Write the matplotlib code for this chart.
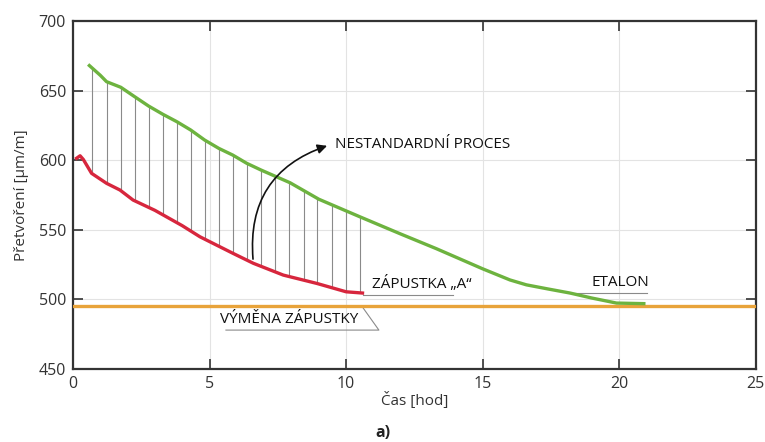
import numpy as np
import matplotlib.pyplot as plt
from matplotlib.patches import FancyArrowPatch

plt.rcParams['font.family'] = ['Open Sans', 'DejaVu Sans']

# etalon (green)
etalon_x = [0.6, 1.0, 1.23, 1.75, 2.26, 2.77, 3.29, 3.8, 4.31, 4.82, 5.34, 5.85, 6.36,
            6.88, 7.95, 9.0, 10.5, 12.0, 13.3, 15.0, 16.0, 16.6, 17.4, 18.2, 19.0, 19.9, 20.9]
etalon_y = [668, 661, 656.4, 652.4, 645.6, 638.9, 633, 627.7, 621.7, 614.5, 608.5, 603.7, 597.8,
            593, 583.8, 572, 559.4, 547, 536.5, 522, 514, 510.5, 507.5, 504.6, 501, 497.4, 497]
# zapustka A (red)
zap_x = [0.13, 0.26, 0.38, 0.68, 1.23, 1.72, 2.2, 3.0, 4.0, 4.65, 5.87, 6.6, 7.7, 8.93, 10.0, 10.6]
zap_y = [601.4, 603.2, 600.5, 590.6, 583.4, 578.6, 571.4, 564, 553, 545, 533, 526, 517.5, 511.5, 505.5, 504.6]
limit_y = 495.5
hatch_x = [0.71, 1.23, 1.74, 2.26, 2.77, 3.29, 3.80, 4.32, 4.83, 5.35, 5.86, 6.38,
           6.89, 7.41, 7.92, 8.44, 8.95, 9.47, 9.98, 10.49]

fig = plt.figure(figsize=(7.65, 4.42), dpi=100)
ax = fig.add_axes([0.0954, 0.165, 0.8926, 0.7875])

hy_top = np.interp(hatch_x, etalon_x, etalon_y)
hy_bot = np.interp(hatch_x, zap_x, zap_y)
ax.vlines(hatch_x, hy_bot, hy_top, colors='#8a8a8a', lw=0.8, zorder=2)

ax.axhline(limit_y, color='#E8A33A', lw=2.4, zorder=3)
ax.plot(etalon_x, etalon_y, color='#6DB33F', lw=2.4, zorder=4)
ax.plot(zap_x, zap_y, color='#D7263D', lw=2.4, zorder=4)

ax.set_xlim(0, 25)
ax.set_ylim(450, 700)
ax.set_xticks(range(0, 26, 5))
ax.set_yticks(range(450, 701, 50))
ax.grid(True, color='#e3e3e3', lw=0.8)
ax.set_axisbelow(True)
ax.tick_params(direction='in', length=7, width=1.2, top=True, right=True,
               labelsize=11.5, colors='#333333', pad=5)
for s in ax.spines.values():
    s.set_linewidth(1.6)
    s.set_color('#333333')

ax.set_xlabel('Čas [hod]', fontsize=11, color='#333333', labelpad=0)
ax.set_ylabel('Přetvoření [µm/m]', fontsize=11, color='#333333', labelpad=7)
fig.text(0.5, 0.012, 'a)', ha='center', fontsize=11.5, fontweight='bold', color='#222222')

# annotations
ax.add_patch(FancyArrowPatch((6.6, 527), (9.4, 611), connectionstyle='arc3,rad=-0.4',
                             arrowstyle='-|>', mutation_scale=14, color='#111111', lw=1.2, zorder=6))
ax.text(9.6, 611, 'NESTANDARDNÍ PROCES', fontsize=11, va='center', color='#111111')

ax.plot([10.6, 13.9], [503.2, 503.2], color='#8a8a8a', lw=0.8)
ax.text(10.95, 505.0, 'ZÁPUSTKA \u201eA\u201c', fontsize=11, va='bottom', color='#111111')

ax.plot([18.2, 21.0], [504.6, 504.6], color='#8a8a8a', lw=0.8)
ax.text(19.0, 506.5, 'ETALON', fontsize=11, va='bottom', color='#111111')

ax.plot([5.6, 11.2, 10.6], [478, 478, 494.5], color='#8a8a8a', lw=0.8)
ax.text(5.4, 480, 'VÝMĚNA ZÁPUSTKY', fontsize=11, va='bottom', color='#111111')

fig.savefig('out.png', dpi=100)
